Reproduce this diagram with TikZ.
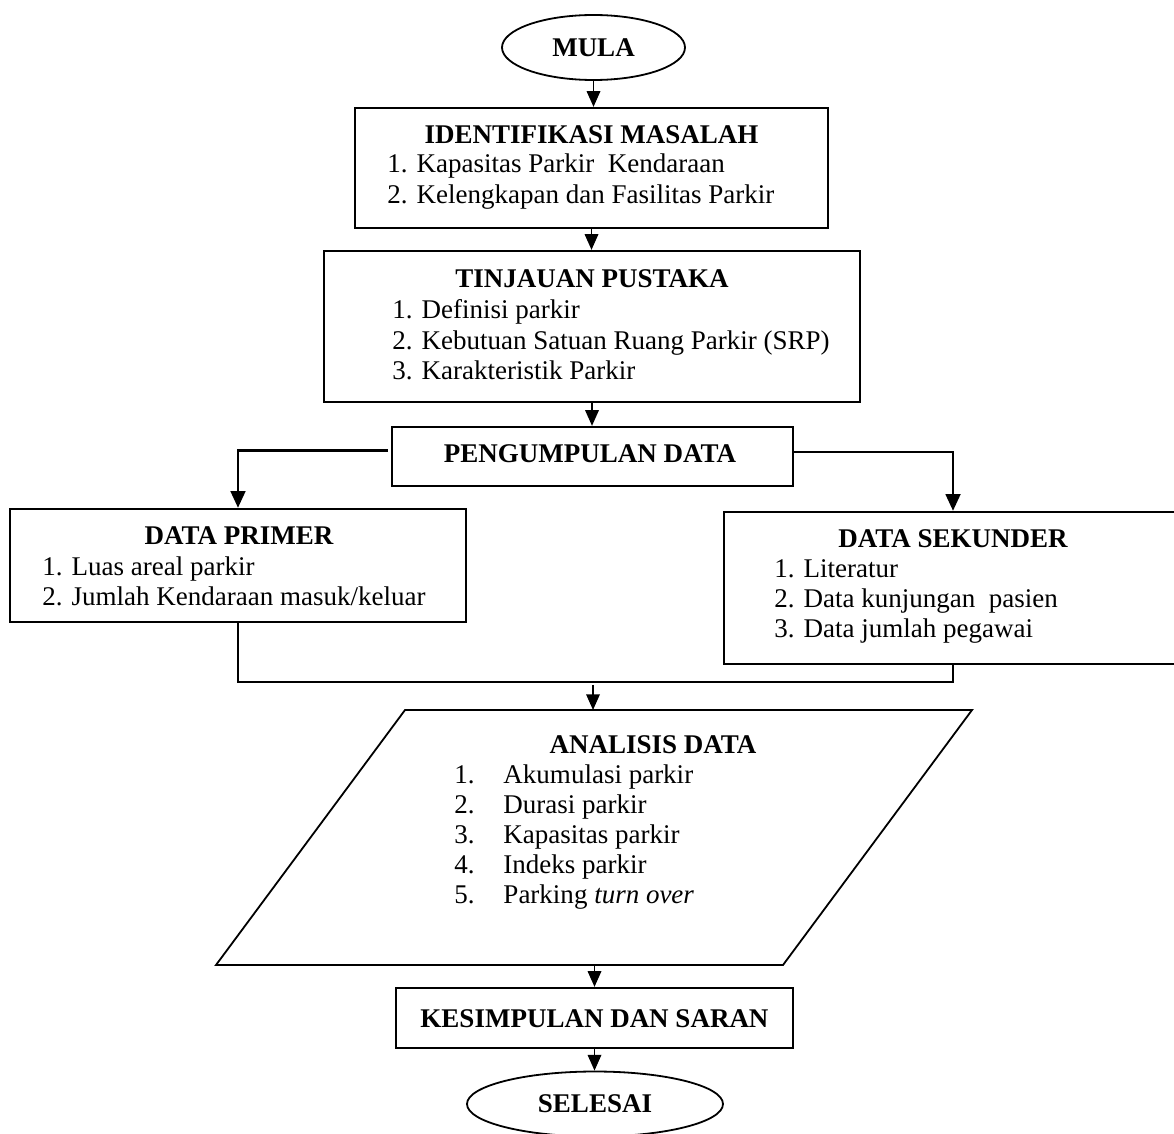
\documentclass[tikz,border=0pt]{standalone}
\usepackage{fontspec}
\setmainfont{Liberation Serif}
\usetikzlibrary{arrows.meta,shapes.geometric,fit}
\newcommand\pxu{0.4444pt}
\begin{document}
\begin{tikzpicture}[x=0.4444pt,y=-0.4444pt,
  boxs/.style={draw,line width=1pt,inner sep=0pt},
  oval/.style={ellipse,draw,line width=0.8pt,inner sep=0pt,
     font=\fontsize{12pt}{13.33pt}\selectfont\bfseries},
  ttl/.style={inner sep=0pt,anchor=base,font=\fontsize{12pt}{13.33pt}\selectfont\bfseries},
  itm/.style={inner sep=0pt,anchor=base west,font=\fontsize{12pt}{13.33pt}\selectfont},
  arr/.style={line width=0.8pt,-{Triangle[width=6pt,length=7pt]}},
  barr/.style={line width=1.3pt,-{Triangle[width=6.5pt,length=7.5pt]}},
  thin/.style={line width=0.8pt}
]
\useasboundingbox (0,0) rectangle (1174,1133);
\clip (0,0) rectangle (1174,1133);

% start
\node[oval,minimum width=183*\pxu,minimum height=65*\pxu] (mula) at (593.5,47.5) {MULA};

% identifikasi masalah
\node[boxs,fit={(355,108) (828,228)}] (ident) {};
\node[ttl] (identT) at (591.5,143) {IDENTIFIKASI MASALAH};
\node[itm] (ident1) at (387,173) {1. Kapasitas Parkir\ \ Kendaraan};
\node[itm] (ident2) at (387,203) {2. Kelengkapan dan Fasilitas Parkir};

% tinjauan pustaka
\node[boxs,fit={(324,251) (860,402)}] (tinj) {};
\node[ttl] (tinjT) at (592,287) {TINJAUAN PUSTAKA};
\node[itm] (tinj1) at (392,318) {1. Definisi parkir};
\node[itm] (tinj2) at (392,349) {2. Kebutuan Satuan Ruang Parkir (SRP)};
\node[itm] (tinj3) at (392,379) {3. Karakteristik Parkir};

% pengumpulan data
\node[boxs,fit={(392,427) (793,486)}] (pd) {};
\node[ttl] (pdT) at (590,462) {PENGUMPULAN DATA};

% data primer
\node[boxs,fit={(10,509) (466,622)}] (prim) {};
\node[ttl] (primT) at (239,544) {DATA PRIMER};
\node[itm] (prim1) at (42,575) {1. Luas areal parkir};
\node[itm] (prim2) at (42,605) {2. Jumlah Kendaraan masuk/keluar};

% data sekunder
\node[boxs,fit={(724,512) (1182,664)}] (sek) {};
\node[ttl] (sekT) at (953,547) {DATA SEKUNDER};
\node[itm] (sek1) at (774,577) {1. Literatur};
\node[itm] (sek2) at (774,607) {2. Data kunjungan\ \ pasien};
\node[itm] (sek3) at (774,637) {3. Data jumlah pegawai};

% analisis data (parallelogram)
\coordinate (pTL) at (405,710);
\coordinate (pTR) at (972,710);
\coordinate (pBR) at (783,965);
\coordinate (pBL) at (216,965);
\coordinate (ptop) at (593,710);
\coordinate (pbot) at (594.5,965);
\draw[thin] (pTL) -- (pTR) -- (pBR) -- (pBL) -- cycle;
\node[ttl] (anT) at (653,753) {ANALISIS DATA};
\node[itm] (an1) at (454,783) {\makebox[21.8pt][l]{1.}Akumulasi parkir};
\node[itm] (an2) at (454,813) {\makebox[21.8pt][l]{2.}Durasi parkir};
\node[itm] (an3) at (454,843) {\makebox[21.8pt][l]{3.}Kapasitas parkir};
\node[itm] (an4) at (454,873) {\makebox[21.8pt][l]{4.}Indeks parkir};
\node[itm] (an5) at (454,903) {\makebox[21.8pt][l]{5.}Parking \textit{turn over}};

% kesimpulan
\node[boxs,fit={(396,988) (793,1048)}] (kes) {};
\node[ttl] (kesT) at (594.5,1027) {KESIMPULAN DAN SARAN};

% end
\node[oval,minimum width=256*\pxu,minimum height=65*\pxu] (sel) at (595,1104) {SELESAI};

% connectors
\draw[arr] (mula.south) -- (mula.south |- ident.north);
\draw[arr] (ident.south) -- (ident.south |- tinj.north);
\draw[arr] (tinj.south) -- (tinj.south |- pd.north);
\draw[barr,shorten <=1.5pt] ([yshift=2.6pt]pd.west) -| (prim.north);
\draw[barr] ([yshift=2pt]pd.east) -| (sek.north);
\coordinate (join) at (593,682);
\draw[thin] (prim.south) |- (join) -| (sek.south);
\draw[arr] ([yshift=-1.3pt]join) -- (ptop);
\draw[arr] (pbot) -- (pbot |- kes.north);
\draw[arr] (kes.south) -- (kes.south |- sel.north);
\end{tikzpicture}
\end{document}
